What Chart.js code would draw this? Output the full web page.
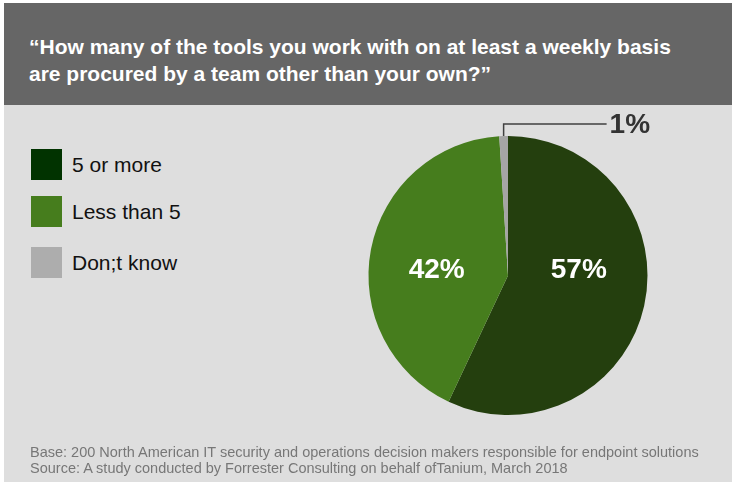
<!DOCTYPE html>
<html>
<head>
<meta charset="utf-8">
<script src="https://cdn.jsdelivr.net/npm/chart.js@4"></script>
<style>
  html, body { margin: 0; padding: 0; background: #fff; }
  #page { position: relative; width: 732px; height: 482px; overflow: hidden; font-family: "Liberation Sans", Arial, sans-serif; }
  #header { position: absolute; left: 4px; top: 3px; width: 728px; height: 102px; background: #666666; }
  #title { position: absolute; left: 29px; top: 33px; color: #fff; font-weight: bold; font-size: 21px; line-height: 27px; white-space: nowrap; }
  #body { position: absolute; left: 4px; top: 105px; width: 728px; height: 377px; background: #dedede; }
  #legend { position: absolute; left: 31px; top: 149px; }
  .item { position: relative; height: 31px; margin-bottom: 16px; }
  .item:nth-child(2) { margin-bottom: 20px; }
  .box { position: absolute; left: 0; top: 0; width: 31px; height: 31px; }
  .lbl { position: absolute; left: 41px; top: 0; font-size: 21px; line-height: 31px; color: #111; white-space: nowrap; }
  #footer { position: absolute; left: 30px; top: 444px; font-size: 14.5px; line-height: 16px; color: #777; white-space: nowrap; }
  #chartBox { position: absolute; left: 340px; top: 105px; width: 392px; height: 340px; }
</style>
</head>
<body>
<div id="page">
  <div id="header"></div>
  <div id="body"></div>
  <div id="title">“How many of the tools you work with on at least a weekly basis<br>are procured by a team other than your own?”</div>
  <div id="legend"></div>
  <div id="chartBox"><canvas id="pie"></canvas></div>
  <div id="footer">Base: 200 North American IT security and operations decision makers responsible for endpoint solutions<br>Source: A study conducted by Forrester Consulting on behalf ofTanium, March 2018</div>
</div>
<script>
const categories = ["5 or more", "Less than 5", "Don;t know"];
const shares = [57, 42, 1];
const sliceColors = ["#243f0e", "#467d1d", "#a5a5a5"];
const legendColors = ["#013300", "#467d1d", "#adadad"];

// html legend
const legend = document.getElementById("legend");
categories.forEach((c, i) => {
  const item = document.createElement("div");
  item.className = "item";
  item.innerHTML = `<div class="box" style="background:${legendColors[i]}"></div><div class="lbl">${c}</div>`;
  legend.appendChild(item);
});

// percent labels, small slice gets a leader line
const sliceLabels = {
  id: "sliceLabels",
  afterDatasetsDraw(chart) {
    const ctx = chart.ctx;
    const arcs = chart.getDatasetMeta(0).data;
    ctx.save();
    ctx.font = "bold 28px 'Liberation Sans', Arial, sans-serif";
    ctx.textBaseline = "middle";
    arcs.forEach((arc, i) => {
      const mid = (arc.startAngle + arc.endAngle) / 2;
      const r = arc.outerRadius;
      const text = shares[i] + "%";
      if (shares[i] >= 5) {
        ctx.fillStyle = "#fff";
        ctx.textAlign = "center";
        ctx.fillText(text, arc.x + Math.cos(mid) * r * 0.52, arc.y - 5);
      } else {
        const px = arc.x + Math.cos(mid) * r;
        const py = arc.y + Math.sin(mid) * r;
        const topY = py - 12;
        ctx.strokeStyle = "#404040";
        ctx.lineWidth = 1.5;
        ctx.beginPath();
        ctx.moveTo(px, py);
        ctx.lineTo(px, topY);
        ctx.lineTo(px + 103, topY);
        ctx.stroke();
        ctx.fillStyle = "#333";
        ctx.textAlign = "left";
        ctx.fillText(text, px + 106, topY + 1);
      }
    });
    ctx.restore();
  }
};

new Chart(document.getElementById("pie"), {
  type: "pie",
  data: {
    labels: categories,
    datasets: [{
      data: shares,
      backgroundColor: sliceColors,
      borderWidth: 0
    }]
  },
  options: {
    responsive: true,
    maintainAspectRatio: false,
    animation: false,
    layout: { padding: { left: 28, right: 84, top: 31, bottom: 30 } },
    plugins: {
      legend: { display: false },
      tooltip: { enabled: false }
    }
  },
  plugins: [sliceLabels]
});
</script>
</body>
</html>
